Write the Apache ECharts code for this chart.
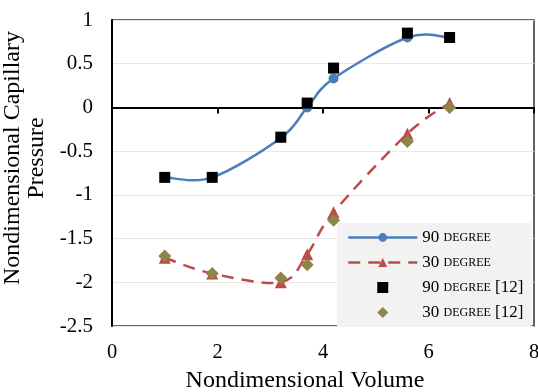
<!DOCTYPE html>
<html><head><meta charset="utf-8">
<script src="https://cdn.jsdelivr.net/npm/echarts@6/dist/echarts.min.js"></script>
<style>html,body{margin:0;padding:0;background:#fff}#c{width:538px;height:392px}</style>
</head><body><div id="c"></div>
<script>
var volume = [1, 1.9, 3.2, 3.7, 4.2, 5.6, 6.4];
var deg90Model = [-0.8, -0.8, -0.35, 0.0, 0.33, 0.8, 0.8];
var deg30Model = [-1.72, -1.9, -2.0, -1.68, -1.2, -0.3, 0.05];
var deg90Ref = [-0.8, -0.8, -0.34, 0.05, 0.45, 0.85, 0.8];
var deg30Ref = [-1.7, -1.9, -1.95, -1.8, -1.29, -0.39, 0.0];
var seriesNames = ['90 DEGREE', '30 DEGREE', '90 DEGREE [12]', '30 DEGREE [12]'];
var xTitle = 'Nondimensional Volume';
var yTitle = 'Nondimensional Capillary\nPressure';

var BLUE = '#4a7ebb', RED = '#be4b48', OLIVE = '#8f8449';
var DASH = [12, 8];
var FONT = '"Liberation Serif", "Times New Roman", serif';

function pairs(xs, ys) { return xs.map(function (x, i) { return [x, ys[i]]; }); }

// Excel-like smoothed curve through the points, positioned by the chart's own scales (api.coord)
function smoothCurve(xs, ys, color, dash) {
  return function (params, api) {
    if (params.dataIndex !== 0) return null;
    var p = xs.map(function (x, i) { return api.coord([x, ys[i]]); });
    var n = p.length;
    var d = 'M' + p[0][0] + ',' + p[0][1];
    for (var i = 0; i < n - 1; i++) {
      var p0 = p[Math.max(i - 1, 0)], p1 = p[i], p2 = p[i + 1], p3 = p[Math.min(i + 2, n - 1)];
      var c1x = p1[0] + (p2[0] - p0[0]) / 6, c1y = p1[1] + (p2[1] - p0[1]) / 6;
      var c2x = p2[0] - (p3[0] - p1[0]) / 6, c2y = p2[1] - (p3[1] - p1[1]) / 6;
      d += ' C' + c1x + ',' + c1y + ' ' + c2x + ',' + c2y + ' ' + p2[0] + ',' + p2[1];
    }
    return {
      type: 'path', shape: {pathData: d},
      style: {fill: 'none', stroke: color, lineWidth: 2.5, lineDash: dash || null}
    };
  };
}

var chart = echarts.init(document.getElementById('c'), null, {renderer: 'canvas'});
chart.setOption({
  animation: false,
  backgroundColor: '#fff',
  grid: {left: 112, right: 4, top: 20, bottom: 66, outerBoundsMode: 'none', containLabel: false,
         show: true, borderColor: '#333', borderWidth: 1.5, backgroundColor: 'transparent'},
  xAxis: {
    type: 'value', min: 0, max: 8, interval: 2,
    name: xTitle, nameLocation: 'middle', nameGap: 43,
    nameTextStyle: {fontFamily: FONT, fontSize: 24, color: '#000', padding: [0, 36, 0, 0]},
    axisLine: {show: true, lineStyle: {color: '#000', width: 2}},
    axisTick: {show: true, inside: false, length: 6, lineStyle: {color: '#000', width: 2}},
    axisLabel: {fontFamily: FONT, fontSize: 20.5, color: '#000', margin: 16},
    splitLine: {show: false}
  },
  yAxis: {
    type: 'value', min: -2.5, max: 1, interval: 0.5,
    name: yTitle, nameLocation: 'middle', nameGap: 54, nameRotate: 90,
    nameTextStyle: {fontFamily: FONT, fontSize: 24, color: '#000', lineHeight: 24, padding: [0, 0, 0, 30]},
    axisLine: {show: true, lineStyle: {color: '#000', width: 2}},
    axisTick: {show: false},
    axisLabel: {fontFamily: FONT, fontSize: 21, color: '#000', margin: 19},
    splitLine: {show: true, lineStyle: {color: '#e8e8e8', width: 1}}
  },
  legend: {
    orient: 'vertical', left: 337, top: 223, z: 10,
    backgroundColor: '#f2f2f2', padding: [6, 8, 6, 10],
    itemWidth: 69, itemHeight: 11, itemGap: 8,
    data: [
      {name: seriesNames[0], lineStyle: {color: BLUE, width: 2.5, type: 'solid'}},
      {name: seriesNames[1], lineStyle: {color: RED, width: 2.5, type: DASH}},
      {name: seriesNames[2], icon: 'path://M0,0L10,0L10,10L0,10Z'},
      {name: seriesNames[3], icon: 'path://M5,0L10,5L5,10L0,5Z'}
    ],
    formatter: function (name) {
      var m = name.match(/^(\d+) (DEGREE)(.*)$/);
      return '{n|' + m[1] + ' }{s|' + m[2] + '}{n|' + m[3] + '}';
    },
    textStyle: {
      fontFamily: FONT, color: '#000',
      rich: {
        n: {fontFamily: FONT, fontSize: 17, color: '#000', lineHeight: 17},
        s: {fontFamily: FONT, fontSize: 12, color: '#000', lineHeight: 17}
      }
    }
  },
  series: [
    {
      name: 'curve90', type: 'custom', z: 1, silent: true,
      data: pairs(volume, deg90Model),
      renderItem: smoothCurve(volume, deg90Model, BLUE, null)
    },
    {
      name: 'curve30', type: 'custom', z: 1, silent: true,
      data: pairs(volume, deg30Model),
      renderItem: smoothCurve(volume, deg30Model, RED, DASH)
    },
    {
      name: seriesNames[0], type: 'line', data: pairs(volume, deg90Model),
      symbol: 'circle', symbolSize: 10, z: 2,
      lineStyle: {color: BLUE, width: 0},
      itemStyle: {color: BLUE}
    },
    {
      name: seriesNames[1], type: 'line', data: pairs(volume, deg30Model),
      symbol: 'triangle', symbolSize: 12, z: 2,
      lineStyle: {color: RED, width: 0},
      itemStyle: {color: RED}
    },
    {
      name: seriesNames[2], type: 'scatter', data: pairs(volume, deg90Ref),
      symbol: 'rect', symbolSize: 11, z: 3,
      itemStyle: {color: '#000', opacity: 1}
    },
    {
      name: seriesNames[3], type: 'scatter', data: pairs(volume, deg30Ref),
      symbol: 'diamond', symbolSize: 13, z: 3,
      itemStyle: {color: OLIVE, opacity: 1}
    }
  ]
});
</script>
</body></html>
